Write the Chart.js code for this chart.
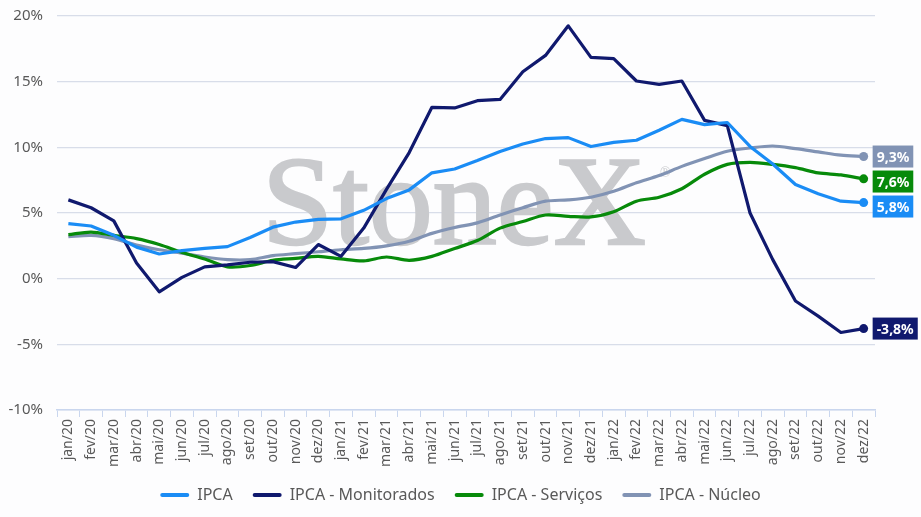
<!DOCTYPE html>
<html>
<head>
<meta charset="utf-8">
<script src="https://cdn.jsdelivr.net/npm/chart.js@4/dist/chart.umd.min.js"></script>
<style>
  html, body { margin: 0; padding: 0; background: #fdfdfe; }
  #wrap { width: 921px; height: 517px; }
</style>
</head>
<body>
<div id="wrap"><canvas id="Chart-ipca"></canvas></div>
<script>
var months = ['jan/20', 'fev/20', 'mar/20', 'abr/20', 'mai/20', 'jun/20', 'jul/20', 'ago/20', 'set/20', 'out/20', 'nov/20', 'dez/20',
  'jan/21', 'fev/21', 'mar/21', 'abr/21', 'mai/21', 'jun/21', 'jul/21', 'ago/21', 'set/21', 'out/21', 'nov/21', 'dez/21',
  'jan/22', 'fev/22', 'mar/22', 'abr/22', 'mai/22', 'jun/22', 'jul/22', 'ago/22', 'set/22', 'out/22', 'nov/22', 'dez/22'];

var ipca = [4.19, 4.01, 3.30, 2.40, 1.88, 2.13, 2.31, 2.44, 3.14, 3.92, 4.31, 4.52,
  4.56, 5.20, 6.10, 6.76, 8.06, 8.35, 8.99, 9.68, 10.25, 10.67, 10.74, 10.06,
  10.38, 10.54, 11.30, 12.13, 11.73, 11.89, 10.07, 8.73, 7.17, 6.47, 5.90, 5.79];

var monitorados = [6.0, 5.4, 4.4, 1.2, -1.0, 0.1, 0.9, 1.05, 1.25, 1.3, 0.85, 2.6,
  1.7, 3.85, 6.8, 9.6, 13.05, 13.0, 13.55, 13.65, 15.75, 17.0, 19.25, 16.85,
  16.75, 15.05, 14.8, 15.05, 12.05, 11.65, 5.0, 1.45, -1.7, -2.85, -4.1, -3.8];

var servicos = [3.35, 3.55, 3.3, 3.05, 2.6, 2.0, 1.5, 0.9, 1.0, 1.4, 1.55, 1.7,
  1.5, 1.35, 1.65, 1.4, 1.7, 2.3, 2.9, 3.85, 4.35, 4.85, 4.75, 4.7,
  5.1, 5.9, 6.2, 6.85, 7.95, 8.7, 8.85, 8.7, 8.45, 8.05, 7.9, 7.6];

var nucleo = [3.2, 3.3, 3.05, 2.55, 2.2, 1.95, 1.65, 1.45, 1.45, 1.75, 1.9, 2.05,
  2.2, 2.3, 2.5, 2.85, 3.45, 3.9, 4.25, 4.85, 5.4, 5.9, 6.0, 6.2,
  6.65, 7.3, 7.85, 8.55, 9.15, 9.7, 9.95, 10.1, 9.9, 9.65, 9.4, 9.3];

var yTicks = [-10, -5, 0, 5, 10, 15, 20];

var colors = {
  ipca: '#1a8cf5',
  monitorados: '#10196e',
  servicos: '#078a0a',
  nucleo: '#8193b4'
};

// only the last point of each line gets a dot
function lastDot(arr) {
  return arr.map(function(v, i) { return i === arr.length - 1 ? 4.5 : 0; });
}

function makeSet(label, data, color, tension) {
  return {
    label: label,
    data: data,
    borderColor: color,
    backgroundColor: color,
    pointBackgroundColor: color,
    pointBorderWidth: 0,
    pointRadius: lastDot(data),
    borderWidth: 3.2,
    borderJoinStyle: 'round',
    tension: tension
  };
}

// big grey brand text behind the lines
var watermark = {
  id: 'watermark',
  beforeDatasetsDraw: function(chart) {
    var ctx = chart.ctx;
    ctx.save();
    ctx.fillStyle = '#c9cacd';
    ctx.strokeStyle = '#c9cacd';
    ctx.lineWidth = 2.5;
    ctx.font = '128px "Liberation Serif", "DejaVu Serif", serif';
    ctx.textBaseline = 'alphabetic';
    ctx.textAlign = 'left';
    ctx.fillText('StoneX', 262, 244);
    ctx.strokeText('StoneX', 262, 244);
    ctx.font = '14px "Liberation Serif", serif';
    ctx.fillText('\u00AE', 660, 177);
    ctx.restore();
  }
};

// coloured value boxes at the end of each line
var endLabels = {
  id: 'endLabels',
  afterDatasetsDraw: function(chart) {
    var ctx = chart.ctx;
    var items = [];
    chart.data.datasets.forEach(function(ds, i) {
      var meta = chart.getDatasetMeta(i);
      var pt = meta.data[meta.data.length - 1];
      var v = ds.data[ds.data.length - 1];
      items.push({ y: pt.y, x: pt.x, text: v.toFixed(1).replace('.', ',') + '%', color: ds.borderColor });
    });
    items.sort(function(a, b) { return a.y - b.y; });
    var h = 22, gap = 3;
    for (var k = 1; k < items.length; k++) {
      if (items[k].y - items[k - 1].y < h + gap) items[k].y = items[k - 1].y + h + gap;
    }
    ctx.save();
    ctx.font = 'bold 14px "Noto Sans", sans-serif';
    ctx.textBaseline = 'middle';
    items.forEach(function(it) {
      var w = ctx.measureText(it.text).width + 8;
      var bx = it.x + 9;
      ctx.fillStyle = it.color;
      ctx.fillRect(bx, it.y - h / 2, w, h);
      ctx.fillStyle = '#ffffff';
      ctx.fillText(it.text, bx + 4, it.y + 1);
    });
    ctx.restore();
  }
};

function chart_ipca() {
  var ctx = document.getElementById('Chart-ipca').getContext('2d');
  new Chart(ctx, {
    type: 'line',
    data: {
      labels: months,
      datasets: [
        makeSet('IPCA', ipca, colors.ipca, 0),
        makeSet('IPCA - Monitorados', monitorados, colors.monitorados, 0),
        makeSet('IPCA - Serviços', servicos, colors.servicos, 0.3),
        makeSet('IPCA - Núcleo', nucleo, colors.nucleo, 0.3)
      ]
    },
    plugins: [watermark, endLabels],
    options: {
      responsive: true,
      maintainAspectRatio: false,
      animation: false,
      layout: { padding: { top: 16, left: 0, right: 0, bottom: 4 } },
      plugins: {
        tooltip: { enabled: false },
        legend: {
          position: 'bottom',
          labels: {
            color: '#595959',
            font: { family: '"Noto Sans", sans-serif', size: 16 },
            boxWidth: 29,
            boxHeight: 4,
            useBorderRadius: true,
            borderRadius: 2,
            padding: 20,
            generateLabels: function(chart) {
              var items = Chart.defaults.plugins.legend.labels.generateLabels(chart);
              items.forEach(function(it) { it.lineWidth = 0; });
              return items;
            }
          }
        }
      },
      scales: {
        x: {
          offset: true,
          grid: {
            offset: true,
            drawOnChartArea: false,
            color: '#c9d6ee',
            tickLength: 7
          },
          border: { color: '#c9d6ee', width: 1.5 },
          ticks: {
            color: '#595959',
            font: { family: '"Noto Sans", sans-serif', size: 14 },
            minRotation: 90,
            maxRotation: 90,
            autoSkip: false,
            padding: 2
          },
          afterFit: function(scale) { scale.height = 57; }
        },
        y: {
          min: -10,
          max: 20,
          afterBuildTicks: function(scale) {
            scale.ticks = yTicks.map(function(v) { return { value: v }; });
          },
          grid: { color: '#d8dde9', lineWidth: 1.2, drawTicks: false },
          border: { display: false },
          ticks: {
            color: '#595959',
            font: { family: '"Noto Sans", sans-serif', size: 15 },
            padding: 14,
            callback: function(v) { return v + '%'; }
          },
          afterFit: function(scale) {
            scale.width = 57;
            scale.paddingTop = 0;
            scale.paddingBottom = 0;
          }
        },
        yRight: {
          position: 'right',
          min: -10,
          max: 20,
          grid: { display: false },
          border: { display: false },
          ticks: { display: false },
          afterFit: function(scale) {
            scale.width = 46;
            scale.paddingTop = 0;
            scale.paddingBottom = 0;
          }
        }
      }
    }
  });
}
chart_ipca();
</script>
</body>
</html>
